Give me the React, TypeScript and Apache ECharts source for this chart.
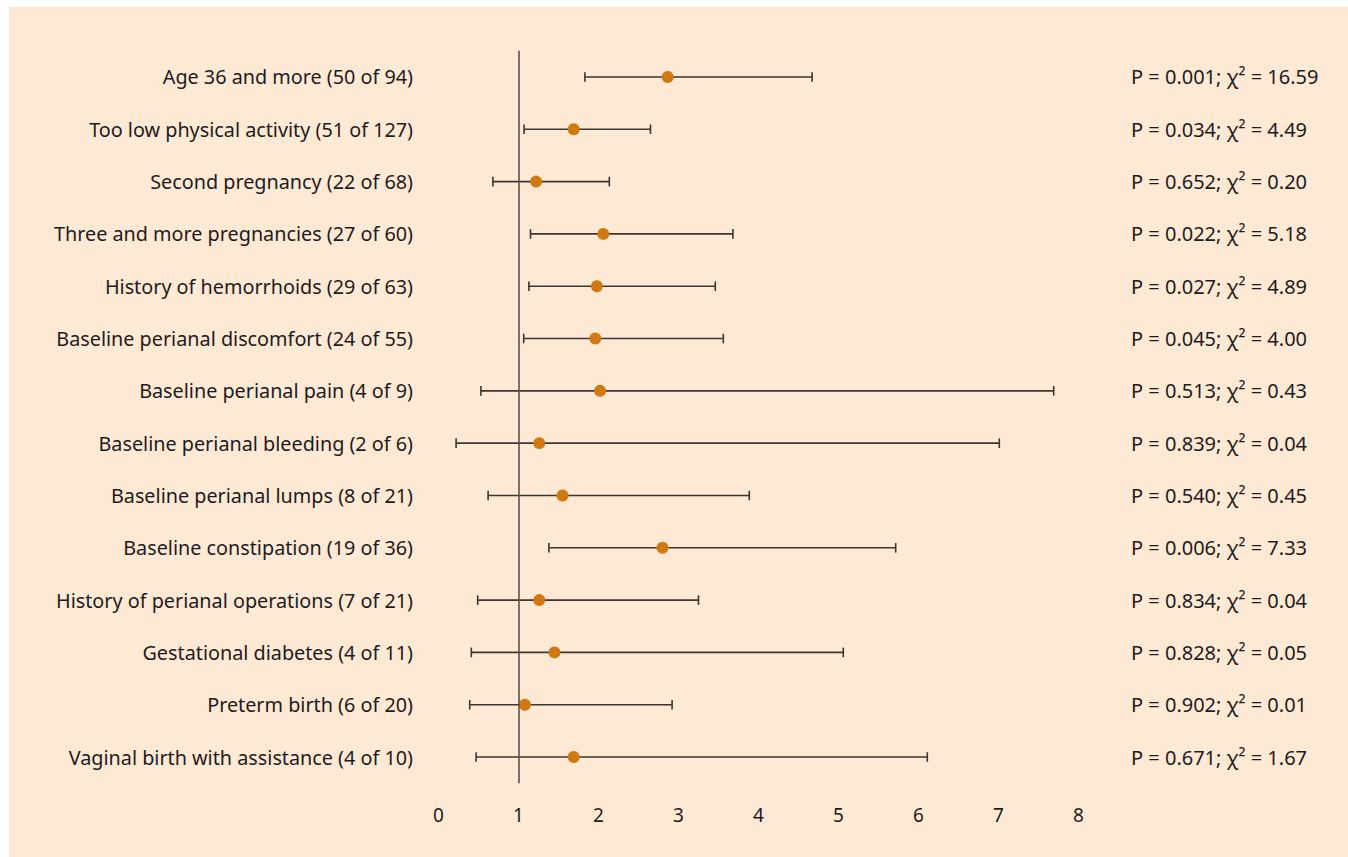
import React, { useEffect, useRef } from "react";
import * as echarts from "echarts";

const categories = [
  "Age 36 and more (50 of 94)",
  "Too low physical activity (51 of 127)",
  "Second pregnancy (22 of 68)",
  "Three and more pregnancies (27 of 60)",
  "History of hemorrhoids (29 of 63)",
  "Baseline perianal discomfort (24 of 55)",
  "Baseline perianal pain (4 of 9)",
  "Baseline perianal bleeding (2 of 6)",
  "Baseline perianal lumps (8 of 21)",
  "Baseline constipation (19 of 36)",
  "History of perianal operations (7 of 21)",
  "Gestational diabetes (4 of 11)",
  "Preterm birth (6 of 20)",
  "Vaginal birth with assistance (4 of 10)",
];

const oddsRatio = [2.865, 1.69, 1.22, 2.06, 1.98, 1.96, 2.02, 1.26, 1.55, 2.8, 1.26, 1.45, 1.08, 1.69];
const ciLower = [1.83, 1.07, 0.68, 1.15, 1.13, 1.065, 0.53, 0.22, 0.62, 1.38, 0.49, 0.41, 0.39, 0.47];
const ciUpper = [4.67, 2.65, 2.135, 3.68, 3.46, 3.56, 7.69, 7.01, 3.885, 5.715, 3.25, 5.06, 2.92, 6.11];

const pValues = ["0.001", "0.034", "0.652", "0.022", "0.027", "0.045", "0.513", "0.839", "0.540", "0.006", "0.834", "0.828", "0.902", "0.671"];
const chiSquare = ["16.59", "4.49", "0.20", "5.18", "4.89", "4.00", "0.43", "0.04", "0.45", "7.33", "0.04", "0.05", "0.01", "1.67"];

const xTicks = [0, 1, 2, 3, 4, 5, 6, 7, 8];

const FONT = "'Noto Sans', sans-serif";
const TEXT = "#1f1b1c";

export default function App() {
  const ref = useRef<HTMLDivElement>(null);

  useEffect(() => {
    if (!ref.current) return;
    const chart = echarts.init(ref.current, null, { renderer: "svg" });
    const rightLabels = categories.map((_, i) => `P = ${pValues[i]}; χ² = ${chiSquare[i]}`);
    const errData = categories.map((_, i) => [ciLower[i], ciUpper[i], i]);
    const ptData = categories.map((_, i) => [oddsRatio[i], i]);

    chart.setOption({
      animation: false,
      backgroundColor: "#ffffff",
      graphic: [
        {
          type: "rect",
          z: -10,
          silent: true,
          shape: { x: 9, y: 7, width: 1348 - 9, height: 857 - 7 },
          style: { fill: "#fee9d4" },
        },
      ],
      grid: { left: 438.5, right: 269.5, top: 50.8, bottom: 73.8 },
      xAxis: {
        type: "value",
        min: 0,
        max: xTicks[xTicks.length - 1],
        interval: 1,
        axisLine: { show: false },
        axisTick: { show: false },
        splitLine: { show: false },
        axisLabel: {
          color: TEXT,
          fontFamily: FONT,
          fontSize: 19,
          margin: 32,
          verticalAlign: "middle",
        },
      },
      yAxis: [
        {
          type: "category",
          data: categories,
          inverse: true,
          axisLine: { show: false },
          axisTick: { show: false },
          splitLine: { show: false },
          axisLabel: {
            color: TEXT,
            fontFamily: FONT,
            fontSize: 19.8,
            margin: 25.5,
          },
        },
        {
          type: "category",
          data: rightLabels,
          inverse: true,
          position: "right",
          axisLine: { show: false },
          axisTick: { show: false },
          splitLine: { show: false },
          axisLabel: {
            color: TEXT,
            fontFamily: FONT,
            fontSize: 20,
            margin: 52.5,
            align: "left",
            padding: [0, 0, 6, 0],
          },
        },
      ],
      series: [
        {
          type: "custom",
          yAxisIndex: 0,
          data: errData,
          encode: { x: [0, 1], y: 2 },
          renderItem: (params: any, api: any) => {
            const lo = api.coord([api.value(0), api.value(2)]);
            const hi = api.coord([api.value(1), api.value(2)]);
            const h = 4.8;
            const style = { stroke: "#3a3632", lineWidth: 1.6 };
            return {
              type: "group",
              children: [
                { type: "line", shape: { x1: lo[0], y1: lo[1], x2: hi[0], y2: hi[1] }, style },
                { type: "line", shape: { x1: lo[0], y1: lo[1] - h, x2: lo[0], y2: lo[1] + h }, style },
                { type: "line", shape: { x1: hi[0], y1: hi[1] - h, x2: hi[0], y2: hi[1] + h }, style },
              ],
            };
          },
          z: 2,
        },
        {
          type: "scatter",
          yAxisIndex: 0,
          data: ptData,
          symbol: "circle",
          symbolSize: 12,
          itemStyle: { color: "#d07912", opacity: 1 },
          z: 3,
          markLine: {
            silent: true,
            symbol: ["none", "none"],
            label: { show: false },
            lineStyle: { type: "solid", color: "#5a514b", width: 1.6 },
            data: [{ xAxis: 1 }],
          },
        },
      ],
    });
    return () => chart.dispose();
  }, []);

  return (
    <div
      ref={ref}
      style={{ position: "fixed", left: 0, top: 0, width: 1348, height: 857 }}
    />
  );
}
